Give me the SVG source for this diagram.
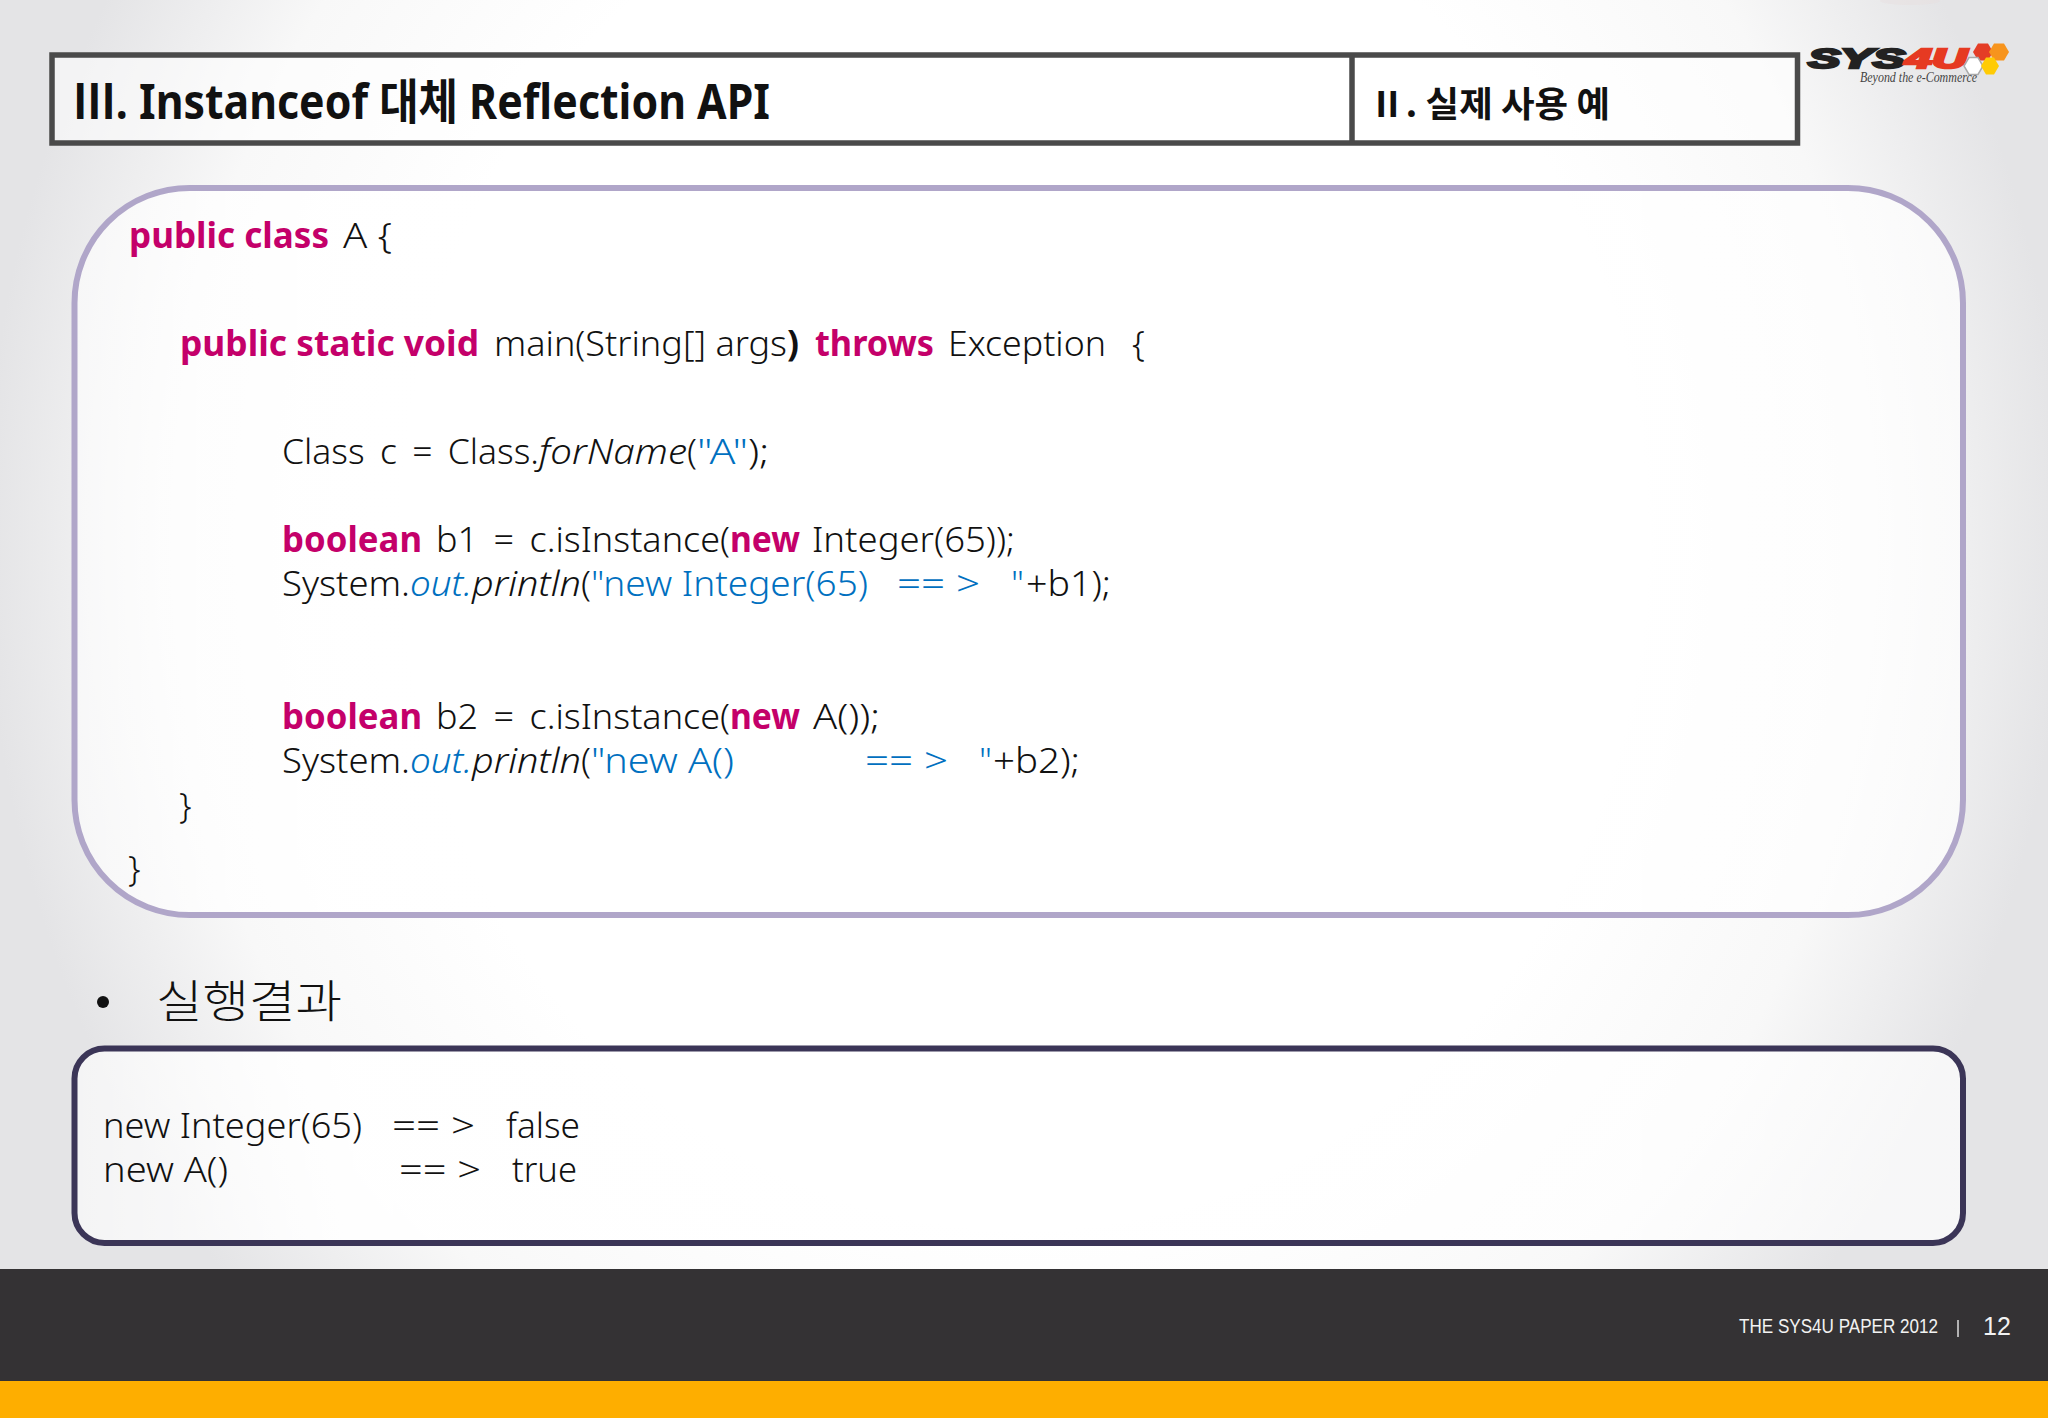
<svg xmlns="http://www.w3.org/2000/svg" width="2048" height="1418" viewBox="0 0 2048 1418">
<style>
text{font-family:"Noto Sans","Noto Sans CJK KR",sans-serif;fill:#111}
.code{font-size:35px;font-weight:300}
.k{font-weight:700;fill:#c4006a}
.s{fill:#0070c0}
.i{font-style:italic}
.ib{font-style:italic;fill:#0070c0}
.b{font-weight:700}
.box{fill:#fff;fill-opacity:.55;stroke:#4a4a4a;stroke-width:5.5}
</style>
<defs>
<radialGradient id="bg" cx="0" cy="0" r="1" gradientUnits="userSpaceOnUse" gradientTransform="translate(1024 540) scale(1040 1150)">
<stop offset="0" stop-color="#fff"/><stop offset=".6" stop-color="#fff"/><stop offset=".82" stop-color="#f8f8f8"/><stop offset="1" stop-color="#e4e4e6"/>
</radialGradient>
<linearGradient id="panel" x1="0" y1="0" x2="1" y2="0">
<stop offset="0" stop-color="#fff" stop-opacity=".6"/><stop offset=".15" stop-color="#fff" stop-opacity=".95"/><stop offset="1" stop-color="#fff" stop-opacity=".7"/>
</linearGradient>
</defs>
<rect id="background" width="2048" height="1418" fill="url(#bg)"/>
<ellipse cx="1910" cy="1" rx="30" ry="4" fill="#e8dcdc" opacity=".35"/>

<g id="header">
<rect class="box" x="52" y="55" width="1745.5" height="88"/>
<line x1="1352" y1="55" x2="1352" y2="143" stroke="#4a4a4a" stroke-width="5.5"/>
<text x="73" y="119" font-size="48" font-weight="700" textLength="697" lengthAdjust="spacingAndGlyphs">Ⅲ. Instanceof 대체 Reflection API</text>
<text x="1369" y="117" font-size="35" font-weight="700" textLength="241" lengthAdjust="spacingAndGlyphs" style="font-family:'Noto Sans CJK KR',sans-serif">Ⅱ. 실제 사용 예</text>
</g>

<g id="logo">
<text x="1808" y="67.500" font-size="27" font-weight="700" font-style="italic" textLength="97" lengthAdjust="spacingAndGlyphs" style="font-family:'Liberation Sans',sans-serif;fill:#222" stroke="#222" stroke-width="2.400">SYS</text>
<text x="1905" y="67.500" font-size="27" font-weight="700" font-style="italic" textLength="62" lengthAdjust="spacingAndGlyphs" style="font-family:'Liberation Sans',sans-serif;fill:#e63a22" stroke="#e63a22" stroke-width="2.400">4U</text>
<polygon points="1973,52 1978,43.500 1988,43.500 1993,52 1988,60.500 1978,60.500" fill="#e43d26"/>
<polygon points="1989,52 1994,43.500 2004,43.500 2009,52 2004,60.500 1994,60.500" fill="#f7941d"/>
<polygon points="1964,66 1969,57.500 1978,57.500 1983,66 1978,74.500 1969,74.500" fill="#fff" stroke="#aaa" stroke-width="1.500"/>
<polygon points="1981,66 1986,57.500 1994,57.500 1999,66 1994,74.500 1986,74.500" fill="#ffcb05"/>
<text x="1860" y="82" font-size="15" font-style="italic" textLength="117" lengthAdjust="spacingAndGlyphs" style="font-family:'Liberation Serif',serif;fill:#444">Beyond the e-Commerce</text>
</g>

<g id="code-box">
<rect x="74.500" y="188" width="1888.500" height="727" rx="115" ry="115" fill="url(#panel)" stroke="#b0a6c9" stroke-width="6"/>
<text class="code" y="248"><tspan class="k" x="129" textLength="200" lengthAdjust="spacingAndGlyphs">public class</tspan> <tspan x="343" textLength="49" lengthAdjust="spacingAndGlyphs">A {</tspan></text>
<text class="code" y="356"><tspan class="k" x="180" textLength="299" lengthAdjust="spacingAndGlyphs">public static void</tspan> <tspan x="494" textLength="293" lengthAdjust="spacingAndGlyphs">main(String[] args</tspan><tspan class="b" x="787" textLength="12" lengthAdjust="spacingAndGlyphs">)</tspan> <tspan class="k" x="815" textLength="119" lengthAdjust="spacingAndGlyphs">throws</tspan> <tspan x="948" textLength="158" lengthAdjust="spacingAndGlyphs">Exception</tspan> <tspan x="1132" textLength="13" lengthAdjust="spacingAndGlyphs">{</tspan></text>
<text class="code" y="464"><tspan x="282" textLength="257" lengthAdjust="spacingAndGlyphs" word-spacing="6">Class c = Class.</tspan><tspan class="i" x="539" textLength="148" lengthAdjust="spacingAndGlyphs">forName</tspan><tspan x="687" textLength="10" lengthAdjust="spacingAndGlyphs">(</tspan><tspan class="s" x="697" textLength="51" lengthAdjust="spacingAndGlyphs">"A"</tspan><tspan x="748" textLength="21" lengthAdjust="spacingAndGlyphs">);</tspan></text>
<text class="code" y="552"><tspan class="k" x="282" textLength="140" lengthAdjust="spacingAndGlyphs">boolean</tspan> <tspan x="436" textLength="294" lengthAdjust="spacingAndGlyphs" word-spacing="6">b1 = c.isInstance(</tspan><tspan class="k" x="730" textLength="70" lengthAdjust="spacingAndGlyphs">new</tspan> <tspan x="812" textLength="203" lengthAdjust="spacingAndGlyphs">Integer(65));</tspan></text>
<text class="code" y="596"><tspan x="282" textLength="128" lengthAdjust="spacingAndGlyphs">System.</tspan><tspan class="ib" x="410" textLength="62" lengthAdjust="spacingAndGlyphs">out.</tspan><tspan class="i" x="472" textLength="109" lengthAdjust="spacingAndGlyphs">println</tspan><tspan x="581" textLength="10" lengthAdjust="spacingAndGlyphs">(</tspan><tspan class="s" x="591" textLength="277" lengthAdjust="spacingAndGlyphs">"new Integer(65)</tspan> <tspan class="s" x="897" textLength="83" lengthAdjust="spacingAndGlyphs">== &gt;</tspan> <tspan class="s" x="1011" textLength="13" lengthAdjust="spacingAndGlyphs">"</tspan><tspan x="1026" textLength="85" lengthAdjust="spacingAndGlyphs">+b1);</tspan></text>
<text class="code" y="729"><tspan class="k" x="282" textLength="140" lengthAdjust="spacingAndGlyphs">boolean</tspan> <tspan x="436" textLength="294" lengthAdjust="spacingAndGlyphs" word-spacing="6">b2 = c.isInstance(</tspan><tspan class="k" x="730" textLength="70" lengthAdjust="spacingAndGlyphs">new</tspan> <tspan x="813" textLength="67" lengthAdjust="spacingAndGlyphs">A());</tspan></text>
<text class="code" y="773"><tspan x="282" textLength="128" lengthAdjust="spacingAndGlyphs">System.</tspan><tspan class="ib" x="410" textLength="62" lengthAdjust="spacingAndGlyphs">out.</tspan><tspan class="i" x="472" textLength="109" lengthAdjust="spacingAndGlyphs">println</tspan><tspan x="581" textLength="10" lengthAdjust="spacingAndGlyphs">(</tspan><tspan class="s" x="591" textLength="143" lengthAdjust="spacingAndGlyphs">"new A()</tspan> <tspan class="s" x="865" textLength="83" lengthAdjust="spacingAndGlyphs">== &gt;</tspan> <tspan class="s" x="979" textLength="13" lengthAdjust="spacingAndGlyphs">"</tspan><tspan x="993" textLength="87" lengthAdjust="spacingAndGlyphs">+b2);</tspan></text>
<text class="code" x="179" y="818">}</text>
<text class="code" x="128" y="881">}</text>
</g>

<g id="result-label">
<circle cx="103" cy="1002" r="6" fill="#111"/>
<text x="156" y="1018" font-size="45" font-weight="300" textLength="186" lengthAdjust="spacingAndGlyphs" style="font-family:'Noto Sans CJK KR',sans-serif">실행결과</text>
</g>

<g id="result-box">
<rect x="74.500" y="1048.500" width="1888.500" height="194.500" rx="30" ry="30" fill="url(#panel)" stroke="#3b3557" stroke-width="6"/>
<text class="code" y="1138"><tspan x="103" textLength="259" lengthAdjust="spacingAndGlyphs">new Integer(65)</tspan> <tspan x="392" textLength="83" lengthAdjust="spacingAndGlyphs">== &gt;</tspan> <tspan x="506" textLength="74" lengthAdjust="spacingAndGlyphs">false</tspan></text>
<text class="code" y="1182"><tspan x="103" textLength="125" lengthAdjust="spacingAndGlyphs">new A()</tspan> <tspan x="399" textLength="82" lengthAdjust="spacingAndGlyphs">== &gt;</tspan> <tspan x="512" textLength="65" lengthAdjust="spacingAndGlyphs">true</tspan></text>
</g>

<g id="footer">
<rect y="1269" width="2048" height="112" fill="#343234"/>
<rect y="1381" width="2048" height="37" fill="#feae00"/>
<text x="1739" y="1333" font-size="20" textLength="199" lengthAdjust="spacingAndGlyphs" style="font-family:'Liberation Sans',sans-serif;fill:#f2f2f2">THE SYS4U PAPER 2012</text>
<line x1="1958" y1="1320" x2="1958" y2="1337" stroke="#ddd" stroke-width="1.500"/>
<text x="1983" y="1335" font-size="25" style="font-family:'Liberation Sans',sans-serif;fill:#f2f2f2">12</text>
</g>
</svg>
